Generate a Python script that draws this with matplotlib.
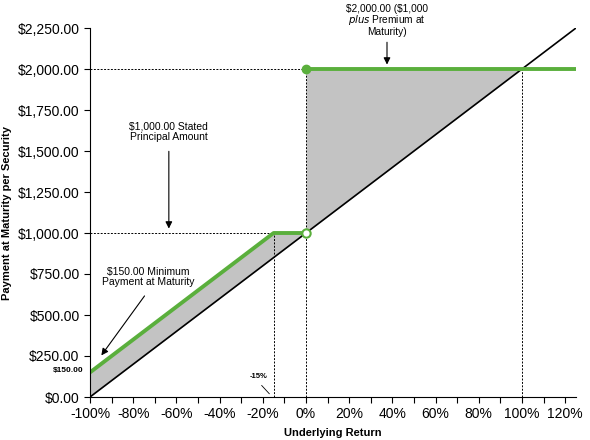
import matplotlib
matplotlib.use("Agg")
import matplotlib.pyplot as plt
import numpy as np

plt.rcParams['font.family'] = ['Liberation Sans', 'DejaVu Sans']

# Data
underlying_pct = [-100, -15, 0, 0, 125]
payment = [150, 1000, 1000, 2000, 2000]
ref_pct = [-100, 125]
ref_payment = [0, 2250]
x_ticks = [-100, -80, -60, -40, -20, 0, 20, 40, 60, 80, 100, 120]
y_ticks = [0, 250, 500, 750, 1000, 1250, 1500, 1750, 2000, 2250]

fig = plt.figure(figsize=(5.9, 4.4), dpi=100)
ax = fig.add_axes([90/590, 1-397/440, (576-90)/590, (397-28)/440])

green = '#5aaf3c'

# fill between green and black where green above black
xs = np.linspace(-100, 125, 2251)
gy = np.interp(xs, underlying_pct[:3], payment[:3])
gy = np.where(xs > 0, 2000, gy)
by = np.interp(xs, ref_pct, ref_payment)
ax.fill_between(xs, by, gy, where=gy >= by, color='#c3c3c3', linewidth=0, interpolate=True)

# dashed reference lines
dk = dict(color='black', linestyle=(0, (2, 1.5)), linewidth=0.7)
ax.plot([-100, 0], [1000, 1000], **dk)
ax.plot([-100, 0], [2000, 2000], **dk)
ax.plot([-15, -15], [0, 1000], **dk)
ax.plot([0, 0], [0, 2000], **dk)
ax.plot([100, 100], [0, 2000], **dk)

ax.plot(ref_pct, ref_payment, color='black', linewidth=1.2)
ax.plot(underlying_pct[:3], payment[:3], color=green, linewidth=2.8, solid_capstyle='butt')
ax.plot(underlying_pct[3:], payment[3:], color=green, linewidth=2.8, solid_capstyle='butt')
ax.plot([0], [1000], marker='o', markersize=6, markerfacecolor='white', markeredgecolor=green,
        markeredgewidth=1.5, linestyle='none')
ax.plot([0], [2000], marker='o', markersize=6, color=green, linestyle='none')

ax.set_xlim(-100, 125)
ax.set_ylim(0, 2250)
ax.set_xticks(x_ticks)
ax.set_xticklabels([f"{v}%" for v in x_ticks], fontsize=10)
ax.set_xticks(list(range(-90, 126, 20)), minor=True)
ax.set_yticks(y_ticks)
ax.set_yticklabels([f"${v:,.2f}" for v in y_ticks], fontsize=10)
ax.tick_params(axis='both', direction='out', length=4, width=0.8, colors='black')
ax.tick_params(axis='x', which='minor', direction='out', length=4, width=0.8)
for s in ['top', 'right']:
    ax.spines[s].set_visible(False)
ax.set_xlabel('Underlying Return', fontsize=8, fontweight='bold', labelpad=5)
ax.set_ylabel('Payment at Maturity per Security', fontsize=8, fontweight='bold', labelpad=4)

ap = dict(arrowstyle='-|>', color='black', linewidth=0.8, mutation_scale=10)
# top annotation
ax.text(37.5, 2195, '\\$2,000.00 (\\$1,000\n$\\it{plus}$ Premium at\nMaturity)',
        ha='center', va='bottom', fontsize=7.3, linespacing=0.95, clip_on=False)
ax.annotate('', xy=(37.5, 2010), xytext=(37.5, 2180), arrowprops=ap, annotation_clip=False)

# stated principal
ax.text(-63.5, 1555, '$1,000.00 Stated\nPrincipal Amount', ha='center', va='bottom', fontsize=7.5,
        linespacing=1.05)
ax.annotate('', xy=(-63.5, 1010), xytext=(-63.5, 1515), arrowprops=ap)

# minimum payment
ax.text(-73, 670, '$150.00 Minimum\nPayment at Maturity', ha='center', va='bottom', fontsize=7.5,
        linespacing=1.05)
ax.annotate('', xy=(-95.5, 240), xytext=(-74, 630), arrowprops=ap)

# small labels
ax.text(-103, 160, '$150.00', ha='right', va='center', fontsize=6, fontweight='bold', clip_on=False)
ax.text(-22, 105, '-15%', ha='center', va='bottom', fontsize=5.5, fontweight='bold')
ax.plot([-20.5, -17], [70, 20], color='black', linewidth=0.6)

fig.savefig('out.png', dpi=100)
